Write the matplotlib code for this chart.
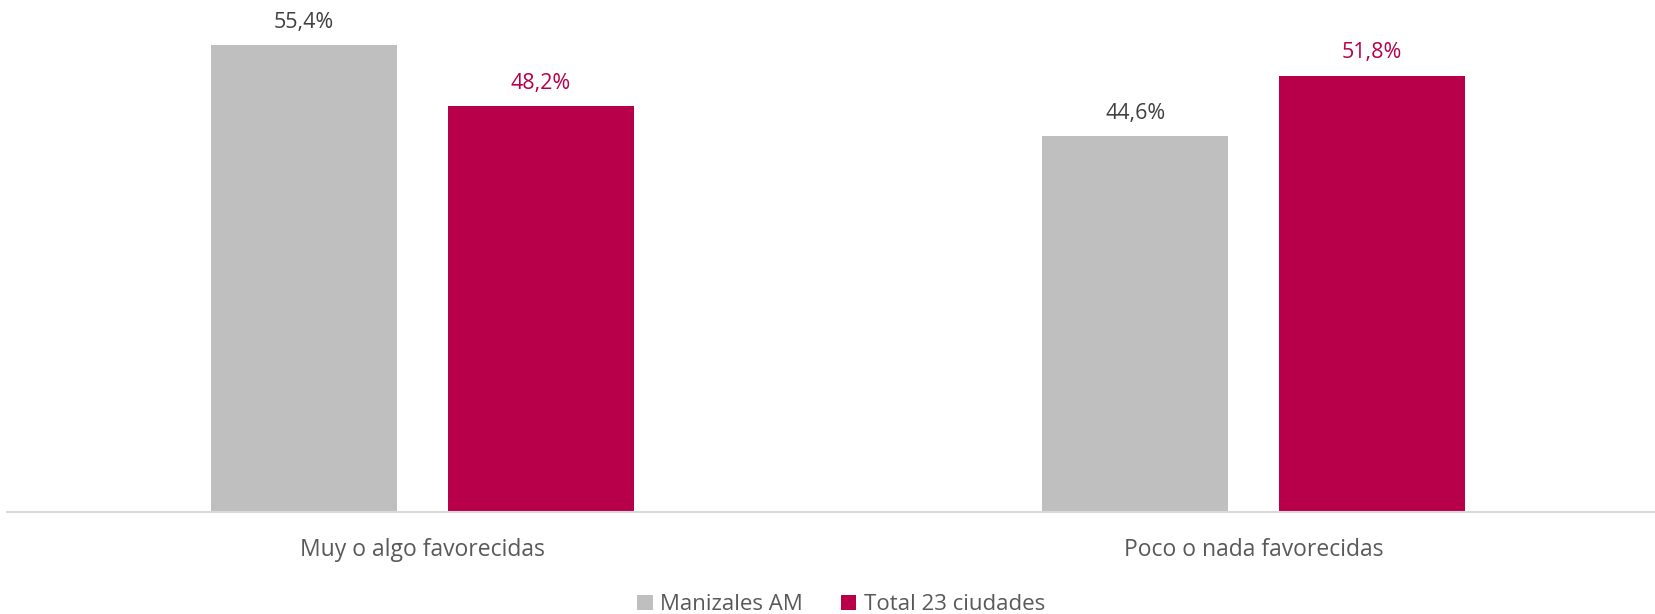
import numpy as np
import matplotlib
matplotlib.use("Agg")
import matplotlib.pyplot as plt

# data
categories = ["Muy o algo favorecidas", "Poco o nada favorecidas"]
series_names = ["Manizales AM", "Total 23 ciudades"]
manizales = [55.4, 44.6]
total_23 = [48.2, 51.8]

colors = ["#BFBFBF", "#B8004A"]
label_colors = ["#404040", "#B8004A"]

plt.rcParams["font.family"] = ["Open Sans", "DejaVu Sans"]

fig = plt.figure(figsize=(16.56, 6.14), dpi=100)
ax = fig.add_axes([7 / 1656, 102 / 614, 1 - 7 / 1656, 512 / 614])

x = np.arange(len(categories))
width = 0.224
offset = 0.1426

for i, (vals, name) in enumerate(zip([manizales, total_23], series_names)):
    pos = x + (i * 2 - 1) * offset
    ax.bar(pos, vals, width=width, color=colors[i], label=name)
    for p, v in zip(pos, vals):
        ax.annotate(f"{v:.1f}%".replace(".", ","), (p, v),
                    xytext=(0, 12.5), textcoords="offset points",
                    ha="center", va="baseline", fontsize=15.5,
                    color=label_colors[i])

ax.set_xlim(-0.5, 1.484)
ax.set_ylim(0, 60.8)
ax.set_xticks(x)
ax.set_xticklabels(categories, fontsize=16.5, color="#595959")
ax.tick_params(axis="x", length=0, pad=19)
ax.set_yticks([])
for s in ["top", "right", "left"]:
    ax.spines[s].set_visible(False)
ax.spines["bottom"].set_color("#D9D9D9")
ax.spines["bottom"].set_linewidth(1.5)

fig.legend(loc="lower center", bbox_to_anchor=(0.508, -0.035), ncol=2,
           frameon=False, fontsize=16, handlelength=0.7, handleheight=0.7,
           handletextpad=0.35, columnspacing=1.7, labelcolor="#595959")

fig.savefig("out.png", dpi=100)
